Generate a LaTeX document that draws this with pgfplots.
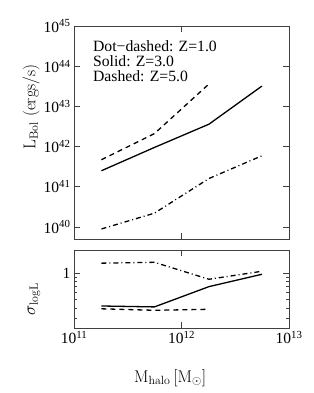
\documentclass[border=0pt]{standalone}
\usepackage{pgfplots}
\pgfplotsset{compat=1.18}
\usepackage{fontspec}
\newfontfamily\timesf{Liberation Serif}
\begin{document}
\begin{tikzpicture}
\path[use as bounding box] (0,0) rectangle (314bp,393bp);
\pgfplotsset{
  every axis/.append style={
    scale only axis,
    width=215bp,
    xmode=log, ymode=log, log basis y=10, log basis x=10,
    xmin=1e11, xmax=1e13,
    xtick={1e11,1e12,1e13},
    axis line style={black!75, line width=0.6bp},
    every tick/.style={black!75, line width=0.5bp},
    major tick length=6bp, minor tick length=3bp,
    tick align=inside,
    tick label style={font=\timesf\fontsize{15.5bp}{16bp}\selectfont},
    label style={font=\fontsize{17bp}{18bp}\selectfont},
  },
  zsolid/.style={black, line width=1.3bp},
  zdashed/.style={black, line width=1.3bp, dash pattern=on 5bp off 4bp},
  zdotdash/.style={black, line width=1.3bp, dash pattern=on 5bp off 3bp on 1bp off 3bp},
}
\begin{axis}[
  at={(74bp,367bp)}, anchor=north west,
  height=213bp,
  ymin=5.01e39, ymax=1e45,
  ytick={1e40,1e41,1e42,1e43,1e44,1e45},
  xticklabels=\empty,
  yticklabel={\pgfmathparse{int(round(\tick))}10\textsuperscript{\pgfmathresult}},
  ylabel={$\mathrm{L_{Bol}}$ (ergs/s)},
  ylabel style={at={(axis description cs:-0.2,0.62)}, anchor=center},
]
\addplot[zdotdash] coordinates {(1.8e11,8.9e39) (5.6e11,2.2e40) (1.8e12,1.6e41) (5.6e12,5.9e41)};
\addplot[zsolid] coordinates {(1.8e11,2.5e41) (5.6e11,9.5e41) (1.8e12,3.6e42) (5.6e12,3.2e43)};
\addplot[zdashed] coordinates {(1.8e11,4.7e41) (5.6e11,2.1e42) (1.8e12,3.6e43)};
\node[anchor=north west, align=left, inner sep=0pt, font=\timesf\fontsize{15.7bp}{15bp}\selectfont]
  at (axis description cs:0.088,0.93)
  {Dot\textminus dashed: Z=1.0\\Solid: Z=3.0\\Dashed: Z=5.0};
\end{axis}
\begin{axis}[
  at={(74bp,143bp)}, anchor=north west,
  height=78bp,
  ymin=0.235, ymax=1.84,
  ytick={1}, yticklabels={1},
  minor ytick={0.3,0.4,0.5,0.6,0.7,0.8,0.9},
  xticklabel={\pgfmathparse{int(round(\tick))}10\textsuperscript{\pgfmathresult}},
  ylabel={$\sigma_{\mathrm{logL}}$},
  ylabel style={at={(axis description cs:-0.186,0.37)}, anchor=center},
  xlabel={$\mathrm{M_{halo}\,[M_\odot]}$},
  xlabel style={at={(axis description cs:0.447,-0.64)}, anchor=center},
]
\addplot[zdotdash] coordinates {(1.8e11,1.30) (5.6e11,1.33) (1.8e12,0.85) (5.6e12,1.05)};
\addplot[zsolid] coordinates {(1.8e11,0.42) (5.6e11,0.41) (1.8e12,0.70) (5.6e12,0.97)};
\addplot[zdashed] coordinates {(1.8e11,0.39) (5.6e11,0.375) (1.8e12,0.385)};
\end{axis}
\end{tikzpicture}
\end{document}
